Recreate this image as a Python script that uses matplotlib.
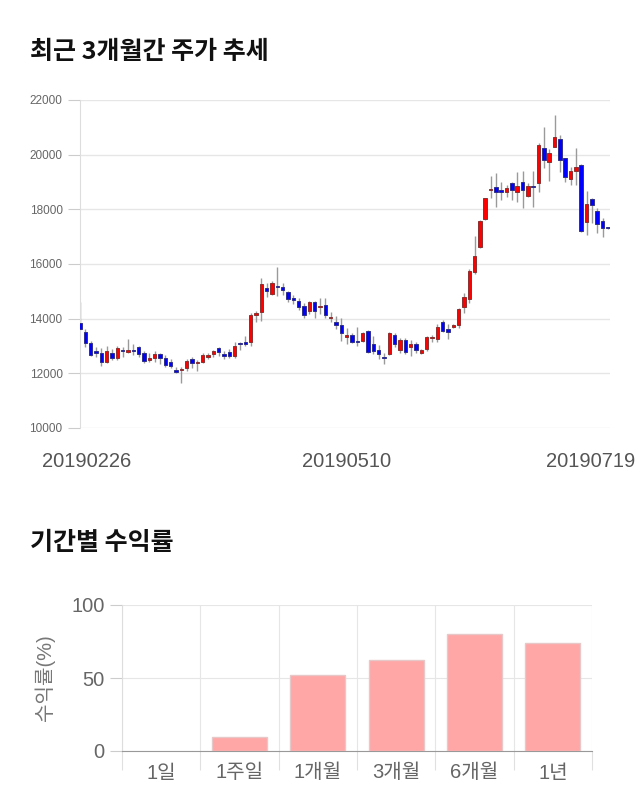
import matplotlib
matplotlib.use('Agg')
import matplotlib.pyplot as plt
import matplotlib.transforms as mtransforms
import numpy as np

plt.rcParams['font.family'] = ['Liberation Sans', 'Noto Sans CJK KR']

# 일봉 데이터 (2019-02-26 ~ 2019-07-19, 100 거래일)
opens = [13830, 13510, 13120, 12820, 12760, 12400, 12760, 12550, 12860, 12790,
         12810, 12960, 12760, 12490, 12550, 12700, 12550, 12430, 12120, 12130,
         12210, 12510, 12370, 12410, 12610, 12710, 12910, 12710, 12770, 12650,
         13120, 13160, 13160, 14150, 14260, 15140, 14900, 15210, 15150, 14960,
         14720, 14660, 14460, 14290, 14600, 14420, 14500, 14010, 13870, 13770,
         13340, 13400, 13190, 13190, 13550, 13070, 12850, 12610, 12700, 13400,
         12850, 13220, 12960, 13070, 12760, 12900, 13280, 13250, 13890, 13620,
         13710, 13750, 14440, 14710, 15690, 16630, 17650, 18700, 18800, 18710,
         18650, 18950, 18650, 18990, 18500, 18850, 18960, 20260, 19750, 20290,
         20570, 19870, 19100, 19410, 19620, 17550, 18370, 17950, 17570, 17310]
highs = [14620, 13630, 13190, 12970, 12910, 13000, 12880, 13000, 12970, 13240,
         13060, 12990, 12830, 12760, 12810, 12760, 12660, 12510, 12220, 12220,
         12510, 12600, 12490, 12760, 12760, 12850, 12970, 12810, 12880, 13160,
         13160, 13360, 14200, 14280, 15500, 15300, 15360, 15900, 15300, 15020,
         14880, 14750, 14560, 14630, 14660, 14750, 14770, 14260, 14080, 14010,
         13650, 13470, 13710, 13520, 13580, 13360, 13040, 12735, 13500, 13460,
         13290, 13290, 13220, 13150, 12900, 13360, 13420, 13800, 13960, 13800,
         13810, 14390, 14930, 15830, 17020, 17620, 18430, 19220, 19340, 18990,
         18880, 18990, 19380, 19400, 18950, 19400, 20410, 21020, 20200, 21450,
         20720, 19890, 19560, 20230, 19650, 18670, 18430, 18040, 17700, 17320]
lows = [13600, 12970, 12630, 12610, 12270, 12390, 12490, 12490, 12610, 12740,
        12670, 12600, 12370, 12430, 12430, 12340, 12240, 12180, 12000, 11640,
        12100, 12200, 12100, 12370, 12510, 12600, 12640, 12510, 12560, 12560,
        12850, 13000, 13010, 13870, 13920, 14810, 14860, 14840, 14880, 14600,
        14520, 14320, 14040, 14180, 14040, 14180, 14040, 13870, 13620, 13180,
        13090, 13110, 13000, 13160, 12760, 12710, 12520, 12340, 12660, 12950,
        12760, 12710, 12630, 12760, 12710, 12820, 13150, 13130, 13510, 13250,
        13660, 13660, 14200, 14590, 15630, 16570, 17610, 18400, 18100, 18340,
        18450, 18340, 18280, 18060, 18460, 18100, 18650, 19500, 19050, 20290,
        19380, 19010, 18890, 18890, 17180, 17060, 17490, 17120, 17000, 17290]
closes = [13610, 13100, 12660, 12760, 12410, 12820, 12550, 12910, 12800, 12850,
          12800, 12710, 12460, 12550, 12700, 12550, 12300, 12270, 12060, 12160,
          12450, 12370, 12430, 12670, 12670, 12820, 12790, 12650, 12650, 13000,
          13060, 13060, 14120, 14170, 15260, 15010, 15300, 15150, 15050, 14710,
          14700, 14440, 14130, 14600, 14290, 14460, 14130, 14070, 13750, 13490,
          13400, 13160, 13140, 13460, 12790, 12830, 12700, 12550, 13460, 13060,
          13220, 12790, 13070, 12850, 12850, 13320, 13330, 13710, 13550, 13500,
          13770, 14350, 14810, 15760, 16310, 17570, 18400, 18760, 18650, 18650,
          18770, 18710, 18870, 18710, 18850, 18810, 20350, 19800, 20050, 20660,
          19810, 19200, 19400, 19560, 17210, 18190, 18160, 17460, 17310, 17300]
date_labels = ['20190226', '20190510', '20190719']
date_idx = [0, 50, 99]

periods = ['1일', '1주일', '1개월', '3개월', '6개월', '1년']
returns = [0.0, 9.3, 51.9, 62.6, 80.0, 73.8]

fig = plt.figure(figsize=(6.4, 8.1), dpi=100)

# 제목
fig.text(30 / 640, 1 - 52 / 810, '최근 3개월간 주가 추세', fontsize=18, fontweight='bold',
         family='Noto Sans CJK KR', va='center', ha='left', color='#111111')
fig.text(30 / 640, 1 - 543 / 810, '기간별 수익률', fontsize=18, fontweight='bold',
         family='Noto Sans CJK KR', va='center', ha='left', color='#111111')

# 캔들 차트
ax = fig.add_axes([80 / 640, 1 - 428 / 810, 530 / 640, 328 / 810])
x = np.arange(len(opens))
o = np.array(opens)
c = np.array(closes)
up = c >= o
body_bottom = np.minimum(o, c)
body_height = np.abs(c - o)
body_height = np.where(body_height < 40, 40, body_height)
ax.vlines(x, lows, highs, color='#9a9a9a', linewidth=1.0, zorder=2)
ax.bar(x[up], body_height[up], bottom=body_bottom[up], width=0.65,
       color='#ff0000', edgecolor='#8a3030', linewidth=0.7, zorder=3)
ax.bar(x[~up], body_height[~up], bottom=body_bottom[~up], width=0.65,
       color='#0000ff', edgecolor='#30308a', linewidth=0.7, zorder=3)

ax.set_xlim(0, 99.4)
ax.set_ylim(10000, 22000)
ax.set_yticks(np.arange(10000, 22001, 2000))
ax.tick_params(axis='y', labelsize=8.5, colors='#cccccc', labelcolor='#666666', length=9, width=0.8)
ax.yaxis.grid(True, color='#e6e6e6', linewidth=1.0)
ax.set_axisbelow(True)
for s in ['top', 'right', 'bottom']:
    ax.spines[s].set_visible(False)
ax.spines['left'].set_color('#dddddd')
ax.set_xticks(date_idx)
ax.set_xticklabels(date_labels)
ax.tick_params(axis='x', length=0, labelsize=14.5, labelcolor='#555555', pad=17)
shifts = [7, 0, -17]
for lab, dx in zip(ax.get_xticklabels(), shifts):
    lab.set_transform(lab.get_transform() + mtransforms.ScaledTranslation(dx / 100, 0, fig.dpi_scale_trans))

# 기간별 수익률 막대 차트
bx = fig.add_axes([122 / 640, 1 - 751 / 810, 470 / 640, 146 / 810])
pos = np.arange(len(periods))
nz = np.array(returns) > 0
bx.bar(pos[nz], np.array(returns)[nz], width=0.7, color='#ffa6a6', edgecolor='#e6c8c8',
       linewidth=1.0, zorder=3)
bx.set_xlim(-0.5, len(periods) - 0.5)
bx.set_ylim(0, 100)
bx.set_yticks([0, 50, 100])
bx.set_xticks(pos)
bx.set_xticklabels(periods)
bx.set_xticks(np.arange(-0.5, len(periods)), minor=True)
bx.tick_params(axis='x', which='major', length=0, labelsize=14.5, labelcolor='#666666', pad=9)
bx.tick_params(axis='x', which='minor', length=14, color='#e0e0e0', width=0.8)
bx.tick_params(axis='y', labelsize=14.5, labelcolor='#666666', colors='#cccccc', length=9, width=0.8)
bx.xaxis.grid(True, which='minor', color='#e6e6e6', linewidth=0.8)
bx.yaxis.grid(True, color='#e6e6e6', linewidth=0.8)
bx.set_axisbelow(True)
for s in ['top', 'right']:
    bx.spines[s].set_visible(False)
bx.spines['left'].set_color('#dddddd')
bx.spines['bottom'].set_color('#999999')
bx.set_ylabel('수익률(%)', fontsize=14.5, color='#777777', labelpad=12)

fig.savefig('out.png', dpi=100)
